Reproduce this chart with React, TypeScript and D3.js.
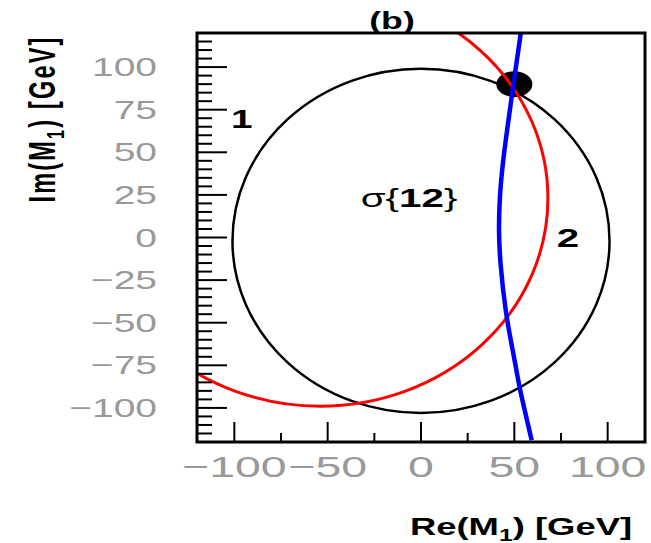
import React from 'react';
import * as d3 from 'd3';

const W = 651;
const H = 543;

// axis domains and ticks
const xDomain: [number, number] = [-120, 120];
const yDomain: [number, number] = [-120, 120];
const xMajorTicks = [-100, -50, 0, 50, 100];
const xTickLabels = ['−100', '−50', '0', '50', '100'];
const xMinorTicks = [-75, -25, 25, 75];
const yMajorTicks = [100, 75, 50, 25, 0, -25, -50, -75, -100];
const yTickLabels = ['100', '75', '50', '25', '0', '−25', '−50', '−75', '−100'];
const yMinorTicks = d3.range(-115, 120, 5);

// circle curves 1 (black) and 2 (red): centre and radius in GeV
const circleRe0 = [0, -54];
const circleIm0 = [-2, 23];
const circleRadius = [101, 122];

// blue curve
const blueRe = [53.4, 48.6, 43.9, 42.3, 41.8, 42.6, 45.6, 50.4, 52.8, 59.3];
const blueIm = [119.5, 82.6, 43.7, 23.9, 4, -15, -44.3, -73.6, -87.7, -119];

// solution point
const solutionRe = [50];
const solutionIm = [90];

const FONT = 'Liberation Sans, Arial, Helvetica, sans-serif';
const SX = 1.55;

function SText(props: {
  x: number; y: number; sx?: number; anchor?: string; size: number;
  weight?: string | number; fill?: string; children: React.ReactNode; letterSpacing?: number; rotate?: boolean;
}) {
  const { x, y, sx = SX, anchor = 'middle', size, weight = 'normal', fill = '#000', children, letterSpacing, rotate } = props;
  return (
    <g transform={`translate(${x},${y}) scale(${sx},1)${rotate ? ' rotate(-90)' : ''}`}>
      <text textAnchor={anchor} fontSize={size} fontWeight={weight} fill={fill} fontFamily={FONT}
        letterSpacing={letterSpacing}>
        {children}
      </text>
    </g>
  );
}

export default function App() {
  const left = 197, right = 645, top = 33, bottom = 442;
  const x = d3.scaleLinear().domain(xDomain).range([left, right]);
  const y = d3.scaleLinear().domain(yDomain).range([bottom, top]);

  const blueData = blueRe.map((r, i) => [r, blueIm[i]] as [number, number]);
  const line = d3.line<[number, number]>()
    .x(d => x(d[0]))
    .y(d => y(d[1]))
    .curve(d3.curveCatmullRom.alpha(0.5));

  const circleColors = ['#000000', '#ff0000'];
  const circleWidths = [2.5, 3];
  const gray = '#999999';

  const circle = (i: number) => (
    <ellipse key={'c' + i} cx={x(circleRe0[i])} cy={y(circleIm0[i])}
      rx={x(circleRe0[i] + circleRadius[i]) - x(circleRe0[i])}
      ry={y(circleIm0[i]) - y(circleIm0[i] + circleRadius[i])}
      fill="none" stroke={circleColors[i]} strokeWidth={circleWidths[i]} />
  );

  return (
    <svg width={W} height={H} style={{ position: 'absolute', left: 0, top: 0, background: '#fff' }}>
      <defs>
        <clipPath id="plotClip">
          <rect x={left} y={top} width={right - left} height={bottom - top} />
        </clipPath>
      </defs>
      <rect x={0} y={0} width={W} height={H} fill="#fff" />

      {/* title */}
      <SText x={392} y={29} size={23} weight="bold">(b)</SText>

      <g clipPath="url(#plotClip)">
        {circle(0)}
        {solutionRe.map((r, i) => (
          <ellipse key={'s' + i} cx={x(r)} cy={y(solutionIm[i])} rx={18} ry={13} fill="#000" />
        ))}
        {circle(1)}
        <path d={line(blueData) || ''} fill="none" stroke="#0000ff" strokeWidth={4.5} />
      </g>

      {/* y ticks */}
      {yMinorTicks.map(t => (
        <line key={'ym' + t} x1={left} x2={left + (t % 25 === 0 ? 30 : 15)} y1={y(t)} y2={y(t)}
          stroke="#000" strokeWidth={2} />
      ))}
      {/* x ticks */}
      {xMajorTicks.map(t => (
        <line key={'xM' + t} x1={x(t)} x2={x(t)} y1={bottom} y2={bottom - 20} stroke="#000" strokeWidth={2} />
      ))}
      {xMinorTicks.map(t => (
        <line key={'xm' + t} x1={x(t)} x2={x(t)} y1={bottom} y2={bottom - 9} stroke="#000" strokeWidth={2} />
      ))}

      {/* frame */}
      <rect x={left} y={top} width={right - left} height={bottom - top} fill="none" stroke="#000" strokeWidth={3} />

      {/* tick labels */}
      {yMajorTicks.map((t, i) => (
        <SText key={'yl' + t} x={157} y={y(t) + 9} sx={1.5} anchor="end" size={26} fill={gray}>
          {yTickLabels[i]}
        </SText>
      ))}
      {xMajorTicks.map((t, i) => (
        <SText key={'xl' + t} x={x(t)} y={477} size={30} fill={gray}>
          {xTickLabels[i]}
        </SText>
      ))}

      {/* axis titles */}
      <SText x={521} y={535} size={23.5} weight="bold">
        Re(M<tspan fontSize={16} dy={6}>1</tspan><tspan dy={-6}>) [GeV]</tspan>
      </SText>
      <SText x={55} y={119} size={23.5} weight="bold" rotate letterSpacing={2.2}>
        Im(M<tspan fontSize={16} dy={6}>1</tspan><tspan dy={-6}>) [GeV]</tspan>
      </SText>

      {/* annotations */}
      <SText x={x(-96)} y={y(64)} size={25} weight="bold">1</SText>
      <SText x={x(78.7)} y={y(-5.6)} size={26} weight="bold">2</SText>
      <SText x={x(-6.4)} y={y(18)} size={26}>
        σ{'{'}<tspan fontWeight="bold">12</tspan>{'}'}
      </SText>
    </svg>
  );
}
